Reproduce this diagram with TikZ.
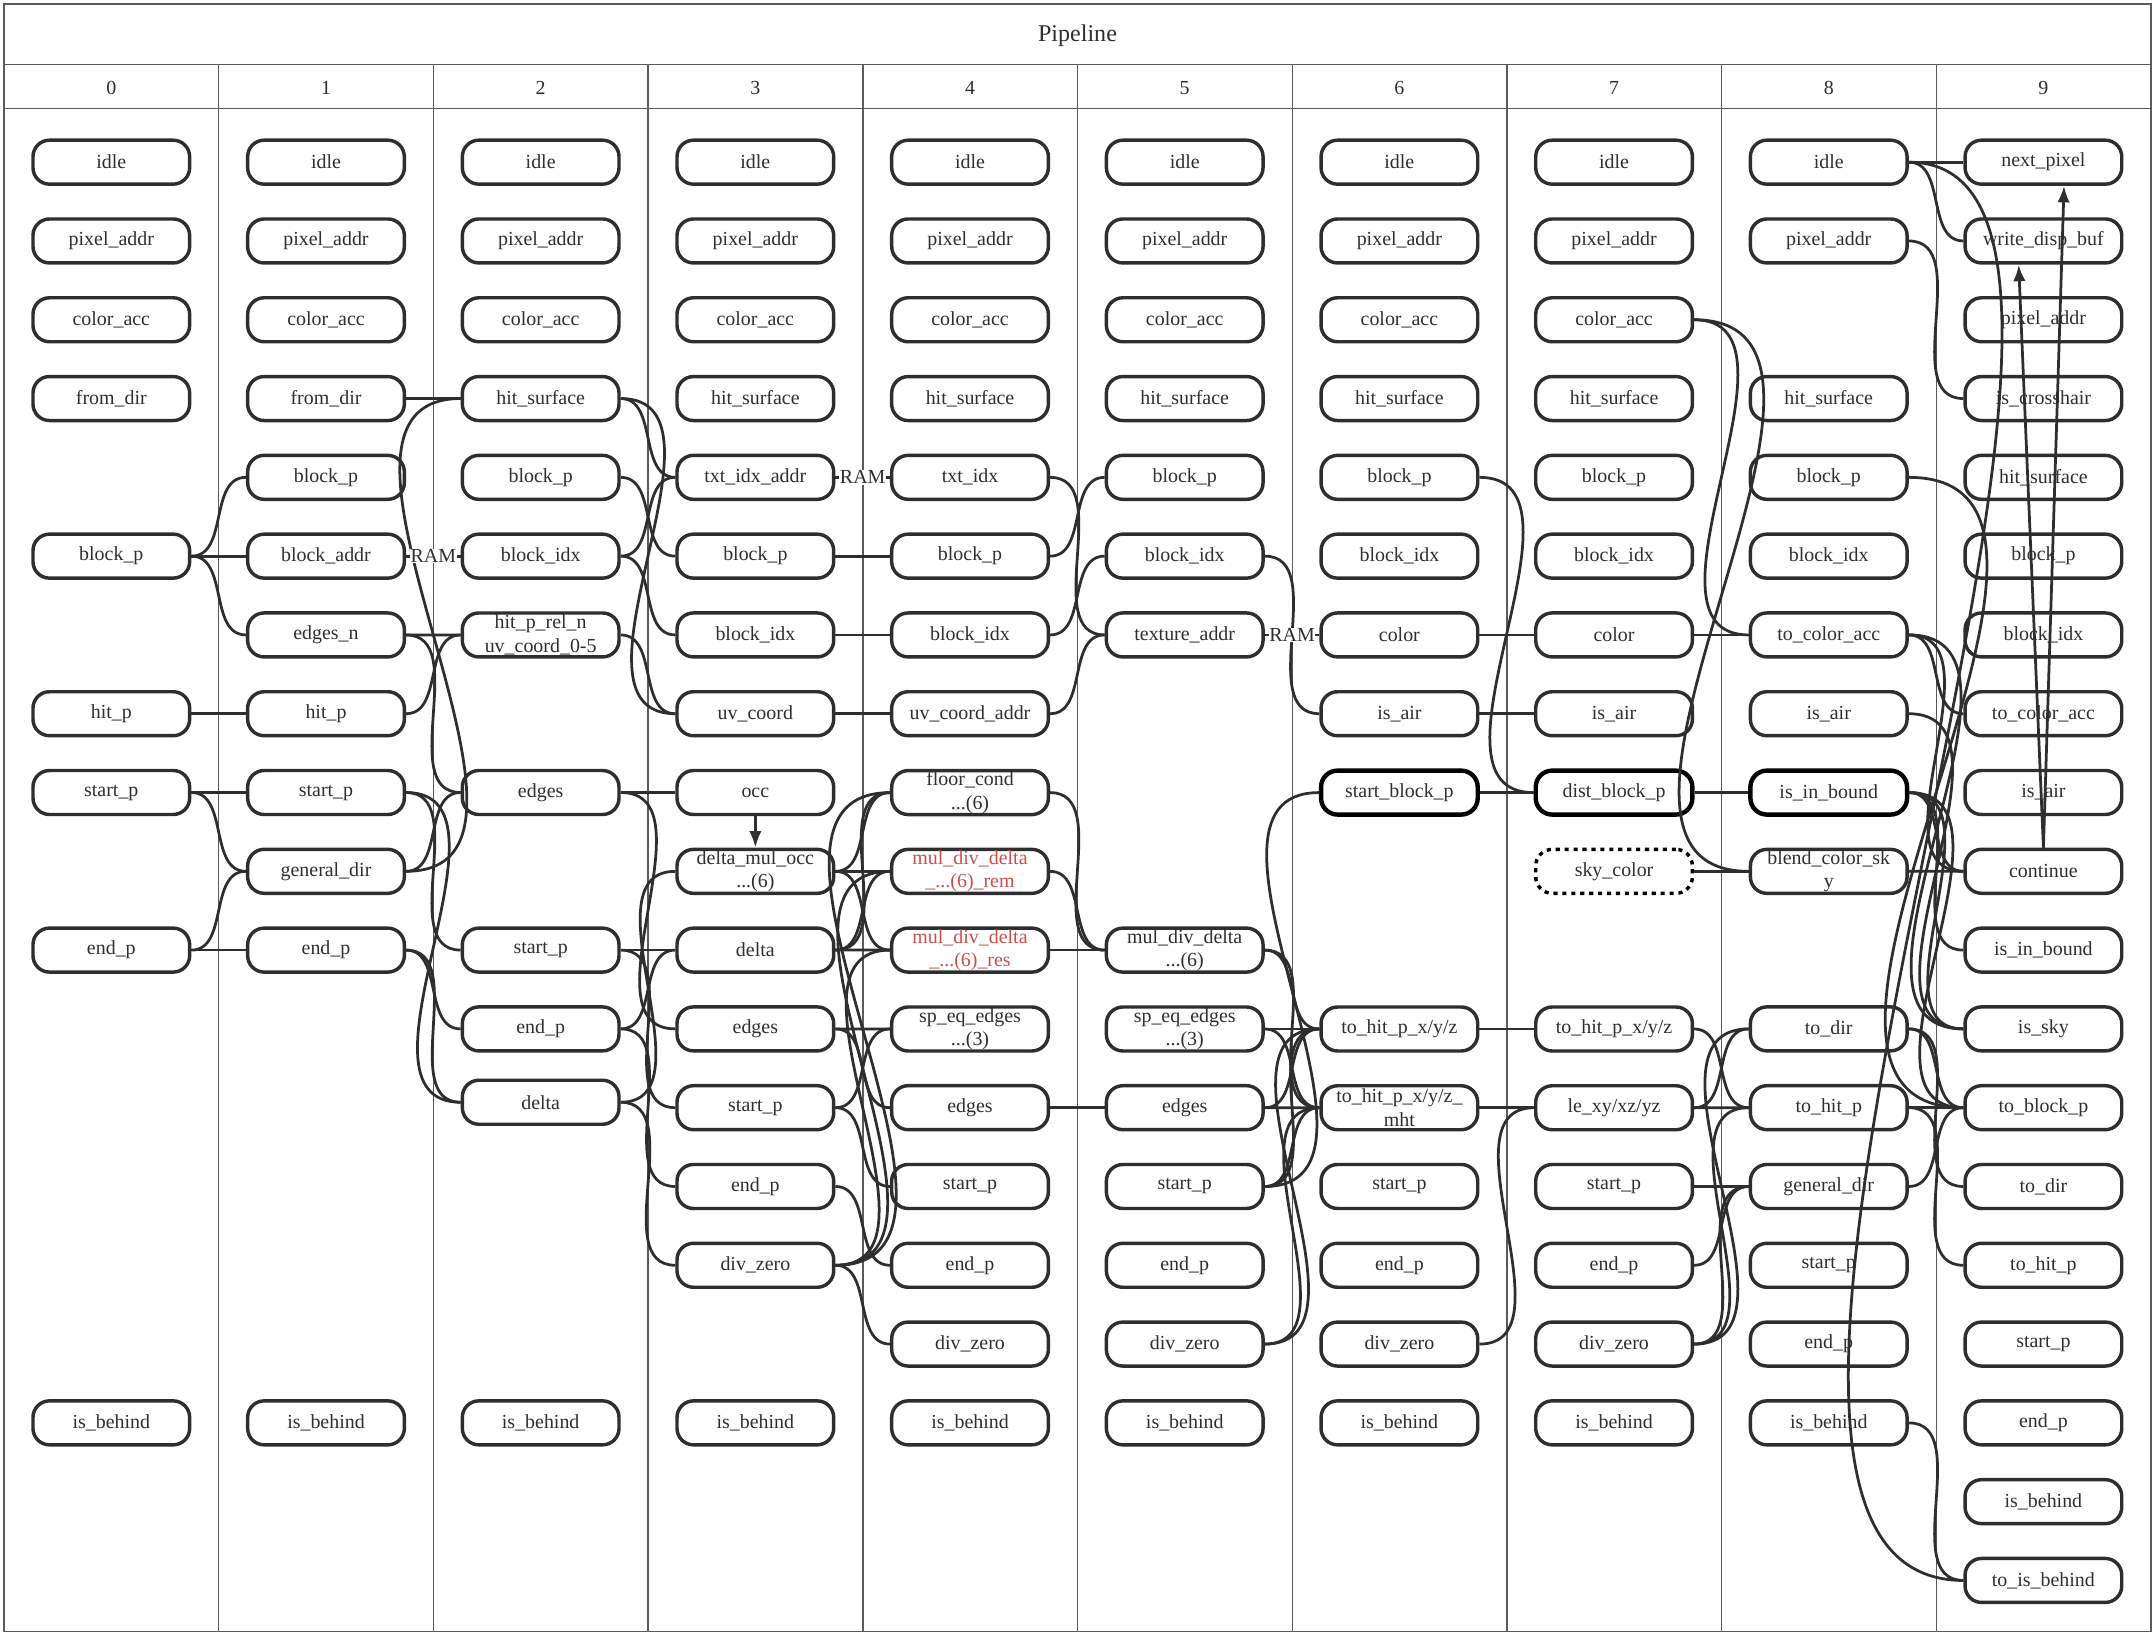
\documentclass[tikz,border=0pt]{standalone}
\usepackage{fontspec}
\setmainfont{Liberation Serif}
\usetikzlibrary{arrows.meta}

\definecolor{ink}{HTML}{2E2E2E}
\definecolor{rule}{HTML}{5A5A5A}
\definecolor{warn}{HTML}{C8504B}

\begin{document}
\begin{tikzpicture}[x=1pt, y=-1pt, >={Latex[length=12pt,width=9pt]},
    stage/.style={draw=ink, line width=2.5pt, rounded corners=12pt, minimum width=114pt, minimum height=32pt,
        inner sep=0pt, align=center, text=ink, font=\fontsize{14.5}{17}\selectfont},
    reg/.style={stage, draw=black, line width=3.2pt},
    wire/.style={draw=ink, line width=2pt, out=0, in=180},
    ram/.style={fill=white, inner sep=0.5pt, text=ink, font=\fontsize{14.5}{17}\selectfont}]
    \useasboundingbox (0,0) rectangle (1568,1190);
    \draw[rule, line width=1pt] (3,3) rectangle (1565,1187);
    \draw[rule, line width=1pt] (3,47) -- (1565,47) (3,79) -- (1565,79);
    \foreach \c in {1,...,9}
        \draw[rule, line width=1pt] ({3+156.2*\c},47) -- ({3+156.2*\c},1187);
    \node[text=ink, font=\fontsize{17.5}{20}\selectfont] (title) at (784,26) {Pipeline};
    \foreach \c in {0,...,9}
        \node[text=ink, font=\fontsize{14.5}{17}\selectfont] (head\c) at ({81+156.2*\c},64) {\c};

    \foreach \row/\nm/\lbl in {1/idle/idle, 2/pa/pixel\_addr, 3/ca/color\_acc, 4/fd/from\_dir, 6/bp/block\_p,
            8/hp/hit\_p, 9/sp/start\_p, 11/ep/end\_p, 17/beh/is\_behind}
        \node[stage] (s0-\nm) at (81,{118+57.33*(\row-1)}) {\lbl};
    \foreach \row/\nm/\lbl in {1/idle/idle, 2/pa/pixel\_addr, 3/ca/color\_acc, 4/fd/from\_dir, 5/bp/block\_p,
            6/ba/block\_addr, 7/en/edges\_n, 8/hp/hit\_p, 9/sp/start\_p, 10/gd/general\_dir, 11/ep/end\_p, 17/beh/is\_behind}
        \node[stage] (s1-\nm) at (237.2,{118+57.33*(\row-1)}) {\lbl};
    \foreach \row/\nm/\lbl in {1/idle/idle, 2/pa/pixel\_addr, 3/ca/color\_acc, 4/hs/hit\_surface, 5/bp/block\_p,
            6/bi/block\_idx, 9/ed/edges, 11/sp/start\_p, 12/ep/end\_p, 17/beh/is\_behind}
        \node[stage] (s2-\nm) at (393.4,{118+57.33*(\row-1)}) {\lbl};
    \node[stage] (s2-hr) at (393.4,462) {hit\_p\_rel\_n\\uv\_coord\_0-5};
    \node[stage] (s2-dl) at (393.4,802) {delta};
    \foreach \row/\nm/\lbl in {1/idle/idle, 2/pa/pixel\_addr, 3/ca/color\_acc, 4/hs/hit\_surface, 5/tia/txt\_idx\_addr,
            6/bp/block\_p, 7/bi/block\_idx, 8/uv/uv\_coord, 9/occ/occ, 11/dl/delta, 12/ed/edges, 13/sp/start\_p,
            14/ep/end\_p, 15/dz/div\_zero, 17/beh/is\_behind}
        \node[stage] (s3-\nm) at (549.6,{118+57.33*(\row-1)}) {\lbl};
    \node[stage] (s3-dmo) at (549.6,634) {delta\_mul\_occ\\...(6)};
    \foreach \row/\nm/\lbl in {1/idle/idle, 2/pa/pixel\_addr, 3/ca/color\_acc, 4/hs/hit\_surface, 5/ti/txt\_idx,
            6/bp/block\_p, 7/bi/block\_idx, 8/uva/uv\_coord\_addr, 13/ed/edges, 14/sp/start\_p, 15/ep/end\_p,
            16/dz/div\_zero, 17/beh/is\_behind}
        \node[stage] (s4-\nm) at (705.8,{118+57.33*(\row-1)}) {\lbl};
    \node[stage] (s4-fc) at (705.8,576.7) {floor\_cond\\...(6)};
    \node[stage, text=warn] (s4-rem) at (705.8,634) {mul\_div\_delta\\\_...(6)\_rem};
    \node[stage, text=warn] (s4-res) at (705.8,691.3) {mul\_div\_delta\\\_...(6)\_res};
    \node[stage] (s4-spe) at (705.8,748.7) {sp\_eq\_edges\\...(3)};
    \foreach \row/\nm/\lbl in {1/idle/idle, 2/pa/pixel\_addr, 3/ca/color\_acc, 4/hs/hit\_surface, 5/bp/block\_p,
            6/bi/block\_idx, 7/ta/texture\_addr, 13/ed/edges, 14/sp/start\_p, 15/ep/end\_p, 16/dz/div\_zero,
            17/beh/is\_behind}
        \node[stage] (s5-\nm) at (862,{118+57.33*(\row-1)}) {\lbl};
    \node[stage] (s5-mdd) at (862,691.3) {mul\_div\_delta\\...(6)};
    \node[stage] (s5-spe) at (862,748.7) {sp\_eq\_edges\\...(3)};
    \foreach \row/\nm/\lbl in {1/idle/idle, 2/pa/pixel\_addr, 3/ca/color\_acc, 4/hs/hit\_surface, 5/bp/block\_p,
            6/bi/block\_idx, 7/col/color, 8/air/is\_air, 14/sp/start\_p, 15/ep/end\_p, 16/dz/div\_zero,
            17/beh/is\_behind}
        \node[stage] (s6-\nm) at (1018.2,{118+57.33*(\row-1)}) {\lbl};
    \node[reg] (s6-sbp) at (1018.2,576.7) {start\_block\_p};
    \node[stage] (s6-th) at (1018.2,748.7) {to\_hit\_p\_x/y/z};
    \node[stage] (s6-thm) at (1018.2,806) {to\_hit\_p\_x/y/z\_\\mht};
    \foreach \row/\nm/\lbl in {1/idle/idle, 2/pa/pixel\_addr, 3/ca/color\_acc, 4/hs/hit\_surface, 5/bp/block\_p,
            6/bi/block\_idx, 7/col/color, 8/air/is\_air, 14/sp/start\_p, 15/ep/end\_p, 16/dz/div\_zero,
            17/beh/is\_behind}
        \node[stage] (s7-\nm) at (1174.4,{118+57.33*(\row-1)}) {\lbl};
    \node[reg] (s7-dbp) at (1174.4,576.7) {dist\_block\_p};
    \node[stage, draw=black, line width=2.5pt, dash pattern=on 3pt off 3.5pt] (s7-sky) at (1174.4,634) {sky\_color};
    \node[stage] (s7-th) at (1174.4,748.7) {to\_hit\_p\_x/y/z};
    \node[stage] (s7-le) at (1174.4,806) {le\_xy/xz/yz};
    \foreach \row/\nm/\lbl in {1/idle/idle, 2/pa/pixel\_addr, 4/hs/hit\_surface, 5/bp/block\_p, 6/bi/block\_idx,
            7/tca/to\_color\_acc, 8/air/is\_air, 12/td/to\_dir, 13/thp/to\_hit\_p, 14/gd/general\_dir, 15/sp/start\_p,
            16/ep/end\_p, 17/beh/is\_behind}
        \node[stage] (s8-\nm) at (1330.6,{118+57.33*(\row-1)}) {\lbl};
    \node[reg] (s8-bnd) at (1330.6,576.7) {is\_in\_bound};
    \node[stage] (s8-bcs) at (1330.6,634) {blend\_color\_sk\\y};
    \foreach \row/\nm/\lbl in {1/np/next\_pixel, 2/wdb/write\_disp\_buf, 3/pa/pixel\_addr, 4/ic/is\_crosshair,
            5/hs/hit\_surface, 6/bp/block\_p, 7/bi/block\_idx, 8/tca/to\_color\_acc, 9/air/is\_air, 10/cont/continue,
            11/bnd/is\_in\_bound, 12/sky/is\_sky, 13/tbp/to\_block\_p, 14/td/to\_dir, 15/thp/to\_hit\_p, 16/sp/start\_p,
            17/ep/end\_p, 18/beh/is\_behind, 19/tbh/to\_is\_behind}
        \node[stage] (s9-\nm) at (1486.8,{118+57.33*(\row-1)}) {\lbl};

    \foreach \a/\b in {s0-bp/s1-bp, s0-bp/s1-ba, s0-bp/s1-en, s0-hp/s1-hp, s0-sp/s1-sp, s0-sp/s1-gd, s0-ep/s1-gd,
            s0-ep/s1-ep,
            s1-fd/s2-hs, s1-en/s2-hr, s1-en/s2-ed, s1-hp/s2-hr, s1-sp/s2-sp, s1-sp/s2-dl, s1-gd/s2-hs, s1-gd/s2-ed,
            s1-ep/s2-ep, s1-ep/s2-dl,
            s2-hs/s3-tia, s2-hs/s3-uv, s2-bp/s3-bp, s2-bi/s3-tia, s2-bi/s3-bi, s2-hr/s3-uv, s2-ed/s3-occ,
            s2-ed/s3-ed, s2-sp/s3-dl, s2-sp/s3-sp, s2-ep/s3-dl, s2-ep/s3-ep, s2-dl/s3-dmo, s2-dl/s3-dz,
            s3-bp/s4-bp, s3-bi/s4-bi, s3-uv/s4-uva, s3-dmo/s4-fc, s3-dmo/s4-rem, s3-dmo/s4-res, s3-dl/s4-fc,
            s3-dl/s4-rem, s3-dl/s4-res, s3-ed/s4-spe, s3-ed/s4-ed, s3-sp/s4-spe, s3-sp/s4-sp, s3-ep/s4-ep,
            s3-dz/s4-fc, s3-dz/s4-rem, s3-dz/s4-res, s3-dz/s4-dz,
            s4-ti/s5-ta, s4-bp/s5-bp, s4-bi/s5-bi, s4-uva/s5-ta, s4-fc/s5-mdd, s4-rem/s5-mdd, s4-res/s5-mdd,
            s4-ed/s5-ed,
            s5-bi/s6-air, s5-mdd/s6-th, s5-mdd/s6-thm, s5-spe/s6-th, s5-spe/s6-thm, s5-ed/s6-th, s5-ed/s6-thm,
            s5-sp/s6-sbp, s5-sp/s6-th, s5-sp/s6-thm, s5-dz/s6-th, s5-dz/s6-thm,
            s6-col/s7-col, s6-air/s7-air, s6-bp/s7-dbp, s6-sbp/s7-dbp, s6-th/s7-th, s6-thm/s7-le, s6-dz/s7-le,
            s7-ca/s8-tca, s7-ca/s8-bcs, s7-col/s8-tca, s7-dbp/s8-bnd, s7-sky/s8-bcs, s7-th/s8-thp, s7-le/s8-thp,
            s7-le/s8-td, s7-sp/s8-gd, s7-ep/s8-gd, s7-dz/s8-td, s7-dz/s8-thp, s7-dz/s8-gd,
            s8-idle/s9-np, s8-idle/s9-wdb, s8-pa/s9-ic, s8-bp/s9-tbp, s8-tca/s9-tca, s8-tca/s9-cont, s8-tca/s9-sky,
            s8-air/s9-sky, s8-bnd/s9-cont, s8-bnd/s9-bnd, s8-bnd/s9-sky, s8-bnd/s9-tbp, s8-bcs/s9-cont,
            s8-td/s9-td, s8-td/s9-tbp, s8-thp/s9-tbp, s8-thp/s9-thp, s8-gd/s9-tbp, s8-beh/s9-tbh}
        \draw[wire] (\a.east) to (\b.west);
    \draw[wire] (s8-idle.east) .. controls +(230,0) and +(-260,0) .. (s9-tbh.west);

    \draw[wire] (s1-ba.east) -- node[ram] {RAM} (s2-bi.west);
    \draw[wire] (s3-tia.east) -- node[ram] {RAM} (s4-ti.west);
    \draw[wire] (s5-ta.east) -- node[ram] {RAM} (s6-col.west);

    \draw[->, draw=ink, line width=2pt] (s3-occ.south) -- (s3-dmo.north);
    \draw[->, draw=ink, line width=2pt] (s9-cont.north) -- ([xshift=15pt]s9-np.south);
    \draw[->, draw=ink, line width=2pt] (s9-cont.north) -- ([xshift=-18pt]s9-wdb.south);
\end{tikzpicture}
\end{document}
